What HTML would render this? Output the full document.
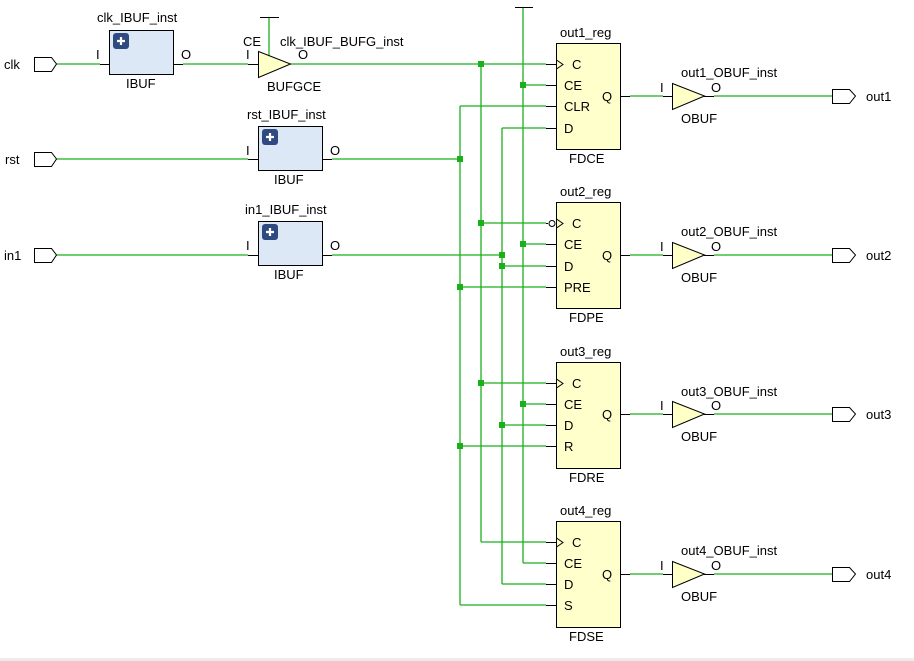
<!DOCTYPE html>
<html><head><meta charset="utf-8"><style>
html,body{margin:0;padding:0;background:#fff;}
svg{display:block;}
text{font-family:"Liberation Sans",sans-serif;font-size:13px;fill:#000;}
</style></head><body>
<svg width="914" height="661" viewBox="0 0 914 661" xmlns="http://www.w3.org/2000/svg">
<rect x="0" y="658" width="914" height="3" fill="#ececec"/>
<g stroke="#1ab01a" stroke-width="1.3" fill="none">
<line x1="56" y1="64" x2="100" y2="64"/>
<line x1="183" y1="64" x2="248" y2="64"/>
<line x1="290" y1="64" x2="546" y2="64"/>
<line x1="269" y1="17" x2="269" y2="56"/>
<line x1="56" y1="159" x2="248" y2="159"/>
<line x1="332" y1="159" x2="460" y2="159"/>
<line x1="56" y1="255" x2="248" y2="255"/>
<line x1="332" y1="255" x2="502" y2="255"/>
<line x1="460" y1="106" x2="460" y2="605"/>
<line x1="481" y1="64" x2="481" y2="542"/>
<line x1="502" y1="128" x2="502" y2="584"/>
<line x1="523" y1="8" x2="523" y2="563"/>
<line x1="523" y1="85" x2="546" y2="85"/>
<line x1="460" y1="106" x2="546" y2="106"/>
<line x1="502" y1="128" x2="546" y2="128"/>
<line x1="481" y1="223" x2="546" y2="223"/>
<line x1="523" y1="244" x2="546" y2="244"/>
<line x1="502" y1="266" x2="546" y2="266"/>
<line x1="460" y1="287" x2="546" y2="287"/>
<line x1="481" y1="383" x2="546" y2="383"/>
<line x1="523" y1="404" x2="546" y2="404"/>
<line x1="502" y1="425" x2="546" y2="425"/>
<line x1="460" y1="446" x2="546" y2="446"/>
<line x1="481" y1="542" x2="546" y2="542"/>
<line x1="523" y1="563" x2="546" y2="563"/>
<line x1="502" y1="584" x2="546" y2="584"/>
<line x1="460" y1="605" x2="546" y2="605"/>
<line x1="630" y1="96" x2="663" y2="96"/><line x1="714" y1="96" x2="832" y2="96"/>
<line x1="630" y1="255" x2="663" y2="255"/><line x1="714" y1="255" x2="832" y2="255"/>
<line x1="630" y1="414" x2="663" y2="414"/><line x1="714" y1="414" x2="832" y2="414"/>
<line x1="630" y1="574" x2="663" y2="574"/><line x1="714" y1="574" x2="832" y2="574"/>
</g>
<g fill="#1ab01a">
<rect x="478" y="61" width="6" height="6"/><rect x="520" y="82" width="6" height="6"/>
<rect x="457" y="156" width="6" height="6"/><rect x="478" y="220" width="6" height="6"/>
<rect x="520" y="241" width="6" height="6"/><rect x="499" y="252" width="6" height="6"/>
<rect x="499" y="263" width="6" height="6"/><rect x="457" y="284" width="6" height="6"/>
<rect x="478" y="380" width="6" height="6"/><rect x="520" y="401" width="6" height="6"/>
<rect x="499" y="422" width="6" height="6"/><rect x="457" y="443" width="6" height="6"/>
</g>
<g stroke="#000" stroke-width="1" fill="none">
<path d="M34.5 57.5H51.5L56.5 64L51.5 71.5H34.5Z"/>
<path d="M34.5 152.5H51.5L56.5 159L51.5 166.5H34.5Z"/>
<path d="M34.5 248.5H51.5L56.5 255L51.5 262.5H34.5Z"/>
<path d="M832.5 89.5H849.5L855.5 96L849.5 103.5H832.5Z"/>
<path d="M832.5 248.5H849.5L855.5 255L849.5 262.5H832.5Z"/>
<path d="M832.5 407.5H849.5L855.5 414L849.5 421.5H832.5Z"/>
<path d="M832.5 567.5H849.5L855.5 574L849.5 581.5H832.5Z"/>
<line x1="100" y1="64.5" x2="121" y2="64.5"/><line x1="162" y1="64.5" x2="183" y2="64.5"/>
<line x1="248" y1="159.5" x2="269" y2="159.5"/><line x1="311" y1="159.5" x2="332" y2="159.5"/>
<line x1="248" y1="255.5" x2="269" y2="255.5"/><line x1="311" y1="255.5" x2="332" y2="255.5"/>
<line x1="248" y1="64.5" x2="258" y2="64.5"/>
<line x1="260" y1="17.5" x2="279" y2="17.5"/>
<line x1="515" y1="7.5" x2="533" y2="7.5"/>
</g>
<g stroke="#000" fill="#dde8f7">
<rect x="109.5" y="30.5" width="64" height="44"/>
<rect x="258.5" y="126.5" width="64" height="44"/>
<rect x="258.5" y="221.5" width="64" height="44"/>
</g>
<g fill="#2f4a80">
<rect x="113" y="33" width="16" height="16" rx="3"/>
<rect x="262" y="129" width="16" height="16" rx="3"/>
<rect x="262" y="224" width="16" height="16" rx="3"/>
</g>
<g stroke="#fff" stroke-width="2.2">
<path d="M117 41H125M121 37V45"/><path d="M266 137H274M270 133V141"/><path d="M266 232H274M270 228V236"/>
</g>
<path d="M258.5 51.5L290.5 64L258.5 77.5Z" fill="#ffffc8" stroke="#000"/>
<g fill="#ffffc8" stroke="#000">
<path d="M672.5 83.5L704.5 96L672.5 109.5Z"/>
<path d="M672.5 242.5L704.5 255L672.5 268.5Z"/>
<path d="M672.5 401.5L704.5 414L672.5 427.5Z"/>
<path d="M672.5 561.5L704.5 574L672.5 587.5Z"/>
</g>
<g stroke="#000" fill="none">
<line x1="663" y1="96.5" x2="672" y2="96.5"/><line x1="704" y1="96.5" x2="714" y2="96.5"/>
<line x1="663" y1="255.5" x2="672" y2="255.5"/><line x1="704" y1="255.5" x2="714" y2="255.5"/>
<line x1="663" y1="414.5" x2="672" y2="414.5"/><line x1="704" y1="414.5" x2="714" y2="414.5"/>
<line x1="663" y1="574.5" x2="672" y2="574.5"/><line x1="704" y1="574.5" x2="714" y2="574.5"/>
<line x1="620" y1="96.5" x2="630" y2="96.5"/><line x1="620" y1="255.5" x2="630" y2="255.5"/>
<line x1="620" y1="414.5" x2="630" y2="414.5"/><line x1="620" y1="574.5" x2="630" y2="574.5"/>
</g>
<g fill="#ffffcc" stroke="#000">
<rect x="556.5" y="43.5" width="64" height="106"/>
<rect x="556.5" y="202.5" width="64" height="106"/>
<rect x="556.5" y="362.5" width="64" height="106"/>
<rect x="556.5" y="521.5" width="64" height="106"/>
</g>
<g stroke="#000" fill="none">
<path d="M546 64.5H556M546 85.5H556M546 106.5H556M546 128.5H556"/>
<path d="M546 223.5H548M546 244.5H556M546 266.5H556M546 287.5H556"/>
<path d="M546 383.5H556M546 404.5H556M546 425.5H556M546 446.5H556"/>
<path d="M546 542.5H556M546 563.5H556M546 584.5H556M546 605.5H556"/>
<path d="M556.5 60L563 64.5L556.5 69"/>
<path d="M556.5 219L563 223.5L556.5 228"/>
<path d="M556.5 379L563 383.5L556.5 388"/>
<path d="M556.5 538L563 542.5L556.5 547"/>
<circle cx="552" cy="223.5" r="3" fill="#fff"/>
</g>
<text x="4" y="69">clk</text><text x="5" y="164">rst</text><text x="4" y="260">in1</text>
<text x="97" y="22">clk_IBUF_inst</text>
<text x="96" y="59">I</text><text x="181" y="59">O</text><text x="126" y="88">IBUF</text>
<text x="243" y="46">CE</text><text x="280" y="46">clk_IBUF_BUFG_inst</text>
<text x="246" y="59">I</text><text x="298" y="59">O</text><text x="267" y="91">BUFGCE</text>
<text x="247" y="119">rst_IBUF_inst</text>
<text x="246" y="155">I</text><text x="330" y="155">O</text><text x="274" y="184">IBUF</text>
<text x="245" y="214">in1_IBUF_inst</text>
<text x="246" y="250">I</text><text x="330" y="250">O</text><text x="274" y="279">IBUF</text>
<g>
<text x="560" y="37">out1_reg</text>
<text x="572" y="69">C</text><text x="564" y="90">CE</text><text x="564" y="111">CLR</text><text x="564" y="133">D</text>
<text x="602" y="101">Q</text><text x="569" y="163">FDCE</text>
<text x="560" y="196">out2_reg</text>
<text x="572" y="228">C</text><text x="564" y="249">CE</text><text x="564" y="271">D</text><text x="564" y="292">PRE</text>
<text x="602" y="260">Q</text><text x="569" y="322">FDPE</text>
<text x="560" y="356">out3_reg</text>
<text x="572" y="388">C</text><text x="564" y="409">CE</text><text x="564" y="430">D</text><text x="564" y="451">R</text>
<text x="602" y="419">Q</text><text x="569" y="482">FDRE</text>
<text x="560" y="515">out4_reg</text>
<text x="572" y="547">C</text><text x="564" y="568">CE</text><text x="564" y="589">D</text><text x="564" y="610">S</text>
<text x="602" y="579">Q</text><text x="569" y="641">FDSE</text>
</g>
<g>
<text x="681" y="77">out1_OBUF_inst</text><text x="660" y="92">I</text><text x="711" y="92">O</text><text x="681" y="123">OBUF</text>
<text x="681" y="236">out2_OBUF_inst</text><text x="660" y="251">I</text><text x="711" y="251">O</text><text x="681" y="282">OBUF</text>
<text x="681" y="396">out3_OBUF_inst</text><text x="660" y="410">I</text><text x="711" y="410">O</text><text x="681" y="441">OBUF</text>
<text x="681" y="555">out4_OBUF_inst</text><text x="660" y="570">I</text><text x="711" y="570">O</text><text x="681" y="601">OBUF</text>
<text x="866" y="101">out1</text><text x="866" y="260">out2</text><text x="866" y="419">out3</text><text x="866" y="579">out4</text>
</g>
</svg>
</body></html>
